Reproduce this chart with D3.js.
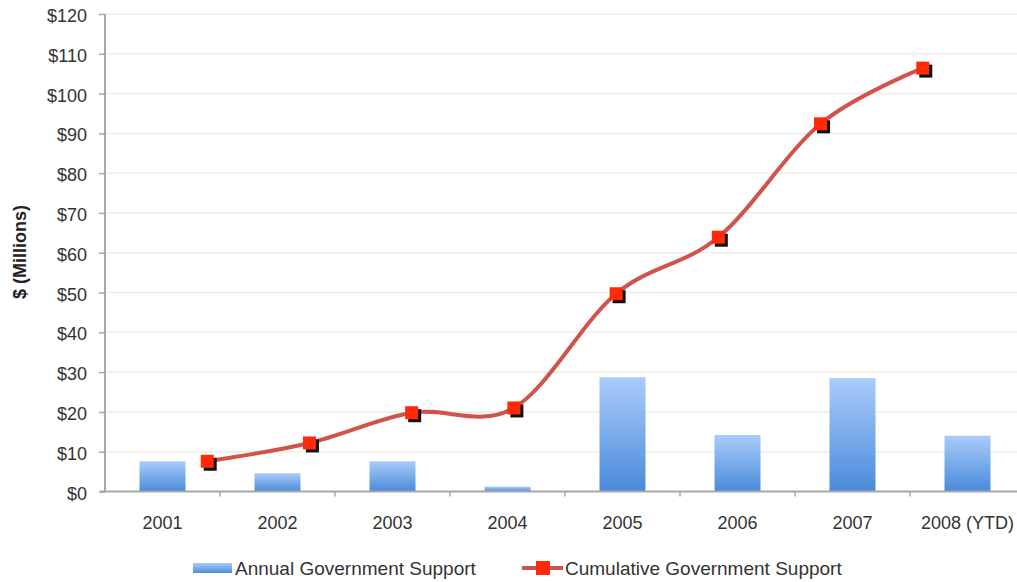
<!DOCTYPE html>
<html>
<head>
<meta charset="utf-8">
<script src="https://cdn.jsdelivr.net/npm/d3@7"></script>
<style>
  html, body { margin: 0; padding: 0; background: #fff; }
  svg { display: block; font-family: "Liberation Sans", Arial, sans-serif; }
</style>
</head>
<body>
<svg id="chart" width="1017" height="582"></svg>
<script>
// Government support by year, $ millions
const years = ["2001", "2002", "2003", "2004", "2005", "2006", "2007", "2008 (YTD)"];
const annualSupport = [7.6, 4.6, 7.6, 1.2, 28.7, 14.2, 28.5, 14.0];
const cumulativeSupport = [7.6, 12.2, 19.8, 21.0, 49.7, 63.9, 92.4, 106.4];
const yTicks = [0, 10, 20, 30, 40, 50, 60, 70, 80, 90, 100, 110, 120];
const seriesNames = ["Annual Government Support", "Cumulative Government Support"];

(function () {
const svg = d3.select("#chart");
const pLeft = 105, pRight = 1025, pTop = 14, pBottom = 491.5;

const x = d3.scaleBand().domain(years).range([pLeft, pRight]).paddingInner(0.6).paddingOuter(0.3);
const xLine = d3.scalePoint().domain(years).range([pLeft, pRight]).padding(1);
const y = d3.scaleLinear().domain([0, 120]).range([pBottom, pTop]);

const defs = svg.append("defs");
const grad = defs.append("linearGradient").attr("id", "barFill")
  .attr("x1", 0).attr("y1", 0).attr("x2", 0).attr("y2", 1);
grad.append("stop").attr("offset", "0%").attr("stop-color", "#a9ccfa");
grad.append("stop").attr("offset", "100%").attr("stop-color", "#4a8bdb");

// Horizontal gridlines
svg.append("g").selectAll("line").data(yTicks.filter(d => d > 0)).join("line")
  .attr("x1", pLeft).attr("x2", 1017)
  .attr("y1", d => y(d)).attr("y2", d => y(d))
  .attr("stroke", "#efede6").attr("stroke-width", 1.5);

// Bars
svg.append("g").selectAll("rect").data(years).join("rect")
  .attr("x", d => x(d))
  .attr("y", (d, i) => y(annualSupport[i]))
  .attr("width", x.bandwidth())
  .attr("height", (d, i) => y(0) - y(annualSupport[i]))
  .attr("fill", "url(#barFill)");

// Y axis
const yAxis = svg.append("g").attr("transform", `translate(${pLeft},0)`)
  .call(d3.axisLeft(y).tickValues(yTicks).tickFormat(d => "$" + d).tickSize(6).tickPadding(12));
yAxis.select(".domain").attr("stroke", "#a8a8a8").attr("stroke-width", 2).attr("d", `M0,${pTop}V${pBottom}`);
yAxis.selectAll(".tick line").attr("stroke", "#a8a8a8").attr("stroke-width", 1.5);
yAxis.selectAll(".tick text").attr("font-size", 18).attr("fill", "#333").attr("dy", "0.42em");

// X axis with ticks at category boundaries
const xAxis = svg.append("g").attr("transform", `translate(0,${pBottom})`);
xAxis.append("line").attr("x1", pLeft - 5).attr("x2", 1017).attr("y1", 0).attr("y2", 0)
  .attr("stroke", "#a8a8a8").attr("stroke-width", 2);
const step = x.step();
xAxis.selectAll(".bt").data(years.slice(1)).join("line").attr("class", "bt")
  .attr("x1", d => x(d) - step * 0.3).attr("x2", d => x(d) - step * 0.3)
  .attr("y1", 0).attr("y2", 5).attr("stroke", "#a8a8a8").attr("stroke-width", 1.5);
xAxis.selectAll("text").data(years).join("text")
  .attr("x", d => x(d) + x.bandwidth() / 2).attr("y", 37)
  .attr("text-anchor", "middle").attr("font-size", 18).attr("fill", "#333")
  .text(d => d);

// Y axis title
svg.append("text").attr("transform", "translate(26,252) rotate(-90)")
  .attr("text-anchor", "middle").attr("font-size", 18).attr("font-weight", "bold").attr("fill", "#222")
  .text("$ (Millions)");

// Cumulative line
const line = d3.line().x((d, i) => xLine(years[i])).y(d => y(d)).curve(d3.curveCardinal.tension(0));
svg.append("path").datum(cumulativeSupport).attr("d", line)
  .attr("fill", "none").attr("stroke", "#d0534c").attr("stroke-width", 4);

// Markers with drop shadow
const m = 13;
const markers = svg.append("g").selectAll("g").data(cumulativeSupport).join("g")
  .attr("transform", (d, i) => `translate(${xLine(years[i])},${y(d)})`);
markers.append("rect").attr("x", -m / 2 + 3).attr("y", -m / 2 + 3).attr("width", m).attr("height", m)
  .attr("fill", "#111");
markers.append("rect").attr("x", -m / 2).attr("y", -m / 2).attr("width", m).attr("height", m)
  .attr("fill", "#ff2a0a");

// Legend
const lg = svg.append("g").attr("transform", "translate(0,568)");
lg.append("rect").attr("x", 193).attr("y", -5).attr("width", 39).attr("height", 10).attr("fill", "url(#barFill)");
lg.append("text").attr("x", 235).attr("y", 7).attr("font-size", 19).attr("fill", "#333").text(seriesNames[0]);
lg.append("line").attr("x1", 522).attr("x2", 563).attr("y1", 0).attr("y2", 0)
  .attr("stroke", "#d0534c").attr("stroke-width", 4);
lg.append("rect").attr("x", 536).attr("y", -7).attr("width", 14).attr("height", 14).attr("fill", "#ff2a0a");
lg.append("text").attr("x", 565).attr("y", 7).attr("font-size", 19).attr("fill", "#333").text(seriesNames[1]);
})();
</script>
</body>
</html>
